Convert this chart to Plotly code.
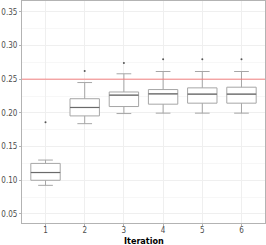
import plotly.graph_objects as go

iterations = [1, 2, 3, 4, 5, 6]
lower_whisker = [0.0925, 0.184, 0.199, 0.1996, 0.1996, 0.1996]
q1 = [0.100, 0.1955, 0.2094, 0.2129, 0.2144, 0.2144]
median = [0.1115, 0.208, 0.2263, 0.2282, 0.2278, 0.2278]
q3 = [0.125, 0.221, 0.231, 0.2346, 0.2371, 0.2381]
upper_whisker = [0.130, 0.245, 0.258, 0.2614, 0.2614, 0.2614]
outliers = [0.186, 0.262, 0.274, 0.2797, 0.2797, 0.2797]
reference_value = 0.25

font_family = "Liberation Sans Narrow, DejaVu Sans Condensed, sans-serif"
box_width = 0.75

fig = go.Figure()
for i, it in enumerate(iterations):
    fig.add_trace(go.Box(
        x=[it], q1=[q1[i]], median=[median[i]], q3=[q3[i]],
        lowerfence=[lower_whisker[i]], upperfence=[upper_whisker[i]],
        width=box_width, fillcolor="white",
        line=dict(color="#a6a6a6", width=1),
        boxpoints=False, showlegend=False, hoverinfo="skip",
    ))
    # darker median line on top
    fig.add_trace(go.Scatter(
        x=[it - box_width / 2, it + box_width / 2], y=[median[i], median[i]],
        mode="lines", line=dict(color="#6a6a6a", width=1.2),
        showlegend=False, hoverinfo="skip",
    ))
fig.add_trace(go.Scatter(
    x=iterations, y=outliers, mode="markers",
    marker=dict(size=2, color="#555555"), showlegend=False,
))
fig.add_shape(type="line", xref="paper", x0=0, x1=1, yref="y",
              y0=reference_value, y1=reference_value,
              line=dict(color="rgba(245,110,110,0.85)", width=1))
fig.add_annotation(text="<b>Iteration</b>", xref="paper", yref="paper",
                   x=0.5, y=0, yanchor="top", yshift=-11, showarrow=False,
                   font=dict(size=9, color="black", family=font_family))

fig.update_layout(
    width=266, height=245, autosize=False,
    margin=dict(l=22, r=1, t=1, b=22),
    paper_bgcolor="white", plot_bgcolor="white",
    font=dict(family=font_family, size=8, color="#4d4d4d"),
    xaxis=dict(
        range=[0.4, 6.6], tickvals=iterations, ticktext=[str(i) for i in iterations],
        showgrid=True, gridcolor="#efefef", gridwidth=1,
        showline=True, linecolor="#b3b3b3", mirror=True, linewidth=1,
        ticks="outside", ticklen=2, tickcolor="#b3b3b3", ticklabelstandoff=-3,
        zeroline=False, automargin=False,
    ),
    yaxis=dict(
        range=[0.0366, 0.366], tickvals=[0.05, 0.10, 0.15, 0.20, 0.25, 0.30, 0.35],
        tickformat=".2f",
        showgrid=True, gridcolor="#efefef", gridwidth=1,
        minor=dict(tickvals=[0.075, 0.125, 0.175, 0.225, 0.275, 0.325],
                   showgrid=True, gridcolor="#f7f7f7", gridwidth=0.5),
        showline=True, linecolor="#b3b3b3", mirror=True, linewidth=1,
        ticks="outside", ticklen=2, tickcolor="#b3b3b3",
        zeroline=False, automargin=False,
    ),
)
fig.write_html("out.html", config={"responsive": False, "displayModeBar": False},
               post_script="document.body.style.margin='0';document.body.style.padding='0';")
